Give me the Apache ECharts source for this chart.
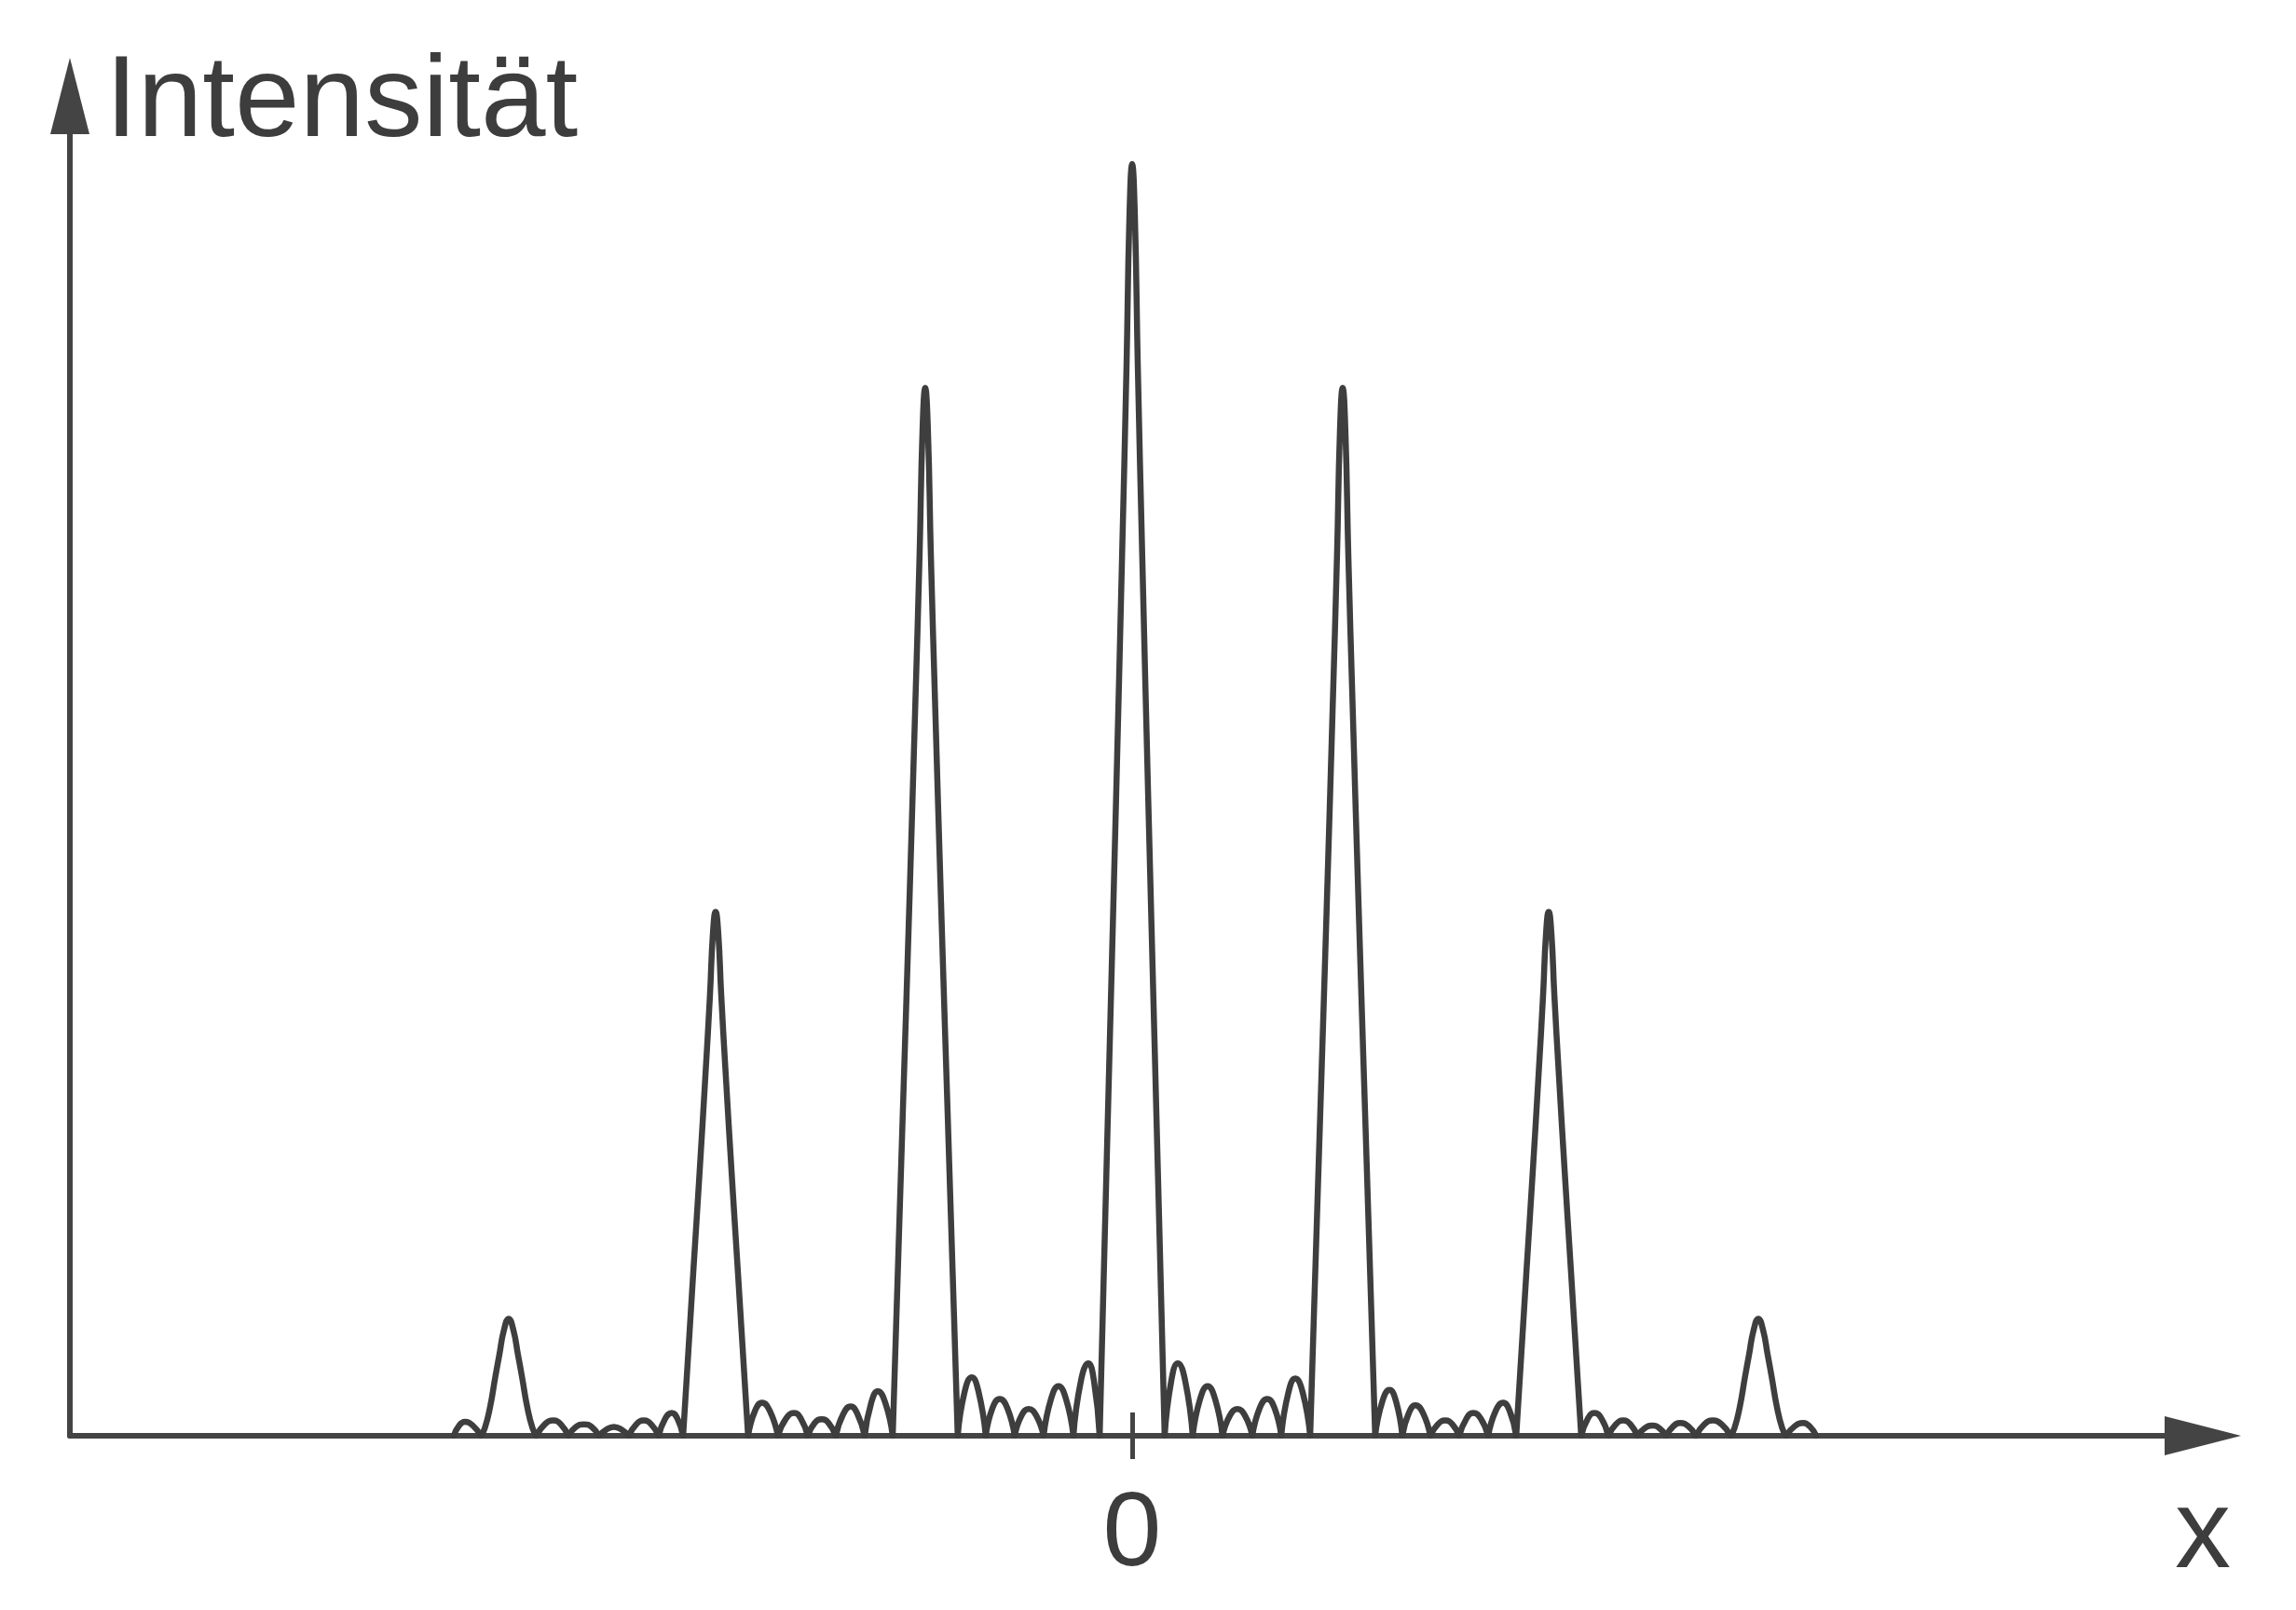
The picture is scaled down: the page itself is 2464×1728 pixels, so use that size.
<!DOCTYPE html>
<html>
<head>
<meta charset="utf-8">
<script src="https://cdn.jsdelivr.net/npm/echarts@6/dist/echarts.min.js"></script>
<style>
  html, body { margin: 0; padding: 0; background: #ffffff; }
  #chart { width: 2464px; height: 1728px; }
</style>
</head>
<body>
<div id="chart"></div>
<script>
// Each entry: [position on screen (units of the spacing between intensity zeros, 0 = centre),
//              relative intensity (% of the central maximum)].
const leftTail = [[-22.75,0],[-22.57,0.8],[-22.38,1.1],[-22.11,0.8]];
const peakMinus3 = [[-21.84,0],[-21.71,0.6],[-21.53,2.3],[-21.36,4.6],[-21.22,6.4],[-21.07,8.3],[-20.91,9.2],[-20.75,8.3],[-20.60,6.4],[-20.46,4.6],[-20.29,2.3],[-20.11,0.6]];
const ripplesMinus3to2 = [[-19.98,0],[-19.70,0.9],[-19.41,1.2],[-19.16,0.9],[-18.91,0],[-18.65,0.7],[-18.38,0.9],[-18.13,0.7],[-17.88,0],[-17.63,0.5],[-17.38,0.7],[-17.13,0.5],[-16.88,0],[-16.63,0.9],[-16.38,1.2],[-16.13,0.9],[-15.88,0],[-15.66,1.35],[-15.44,1.8],[-15.25,1.35]];
const peakMinus2 = [[-15.06,0],[-14.94,4.5],[-14.72,12.8],[-14.51,20.6],[-14.31,28.4],[-14.16,34.6],[-14.06,39.5],[-13.97,41.2],[-13.88,39.5],[-13.78,34.6],[-13.63,28.4],[-13.43,20.6],[-13.22,12.8],[-13.00,4.5]];
const ripplesMinus2to1 = [[-12.88,0],[-12.65,1.95],[-12.41,2.6],[-12.15,1.95],[-11.88,0],[-11.61,1.35],[-11.34,1.8],[-11.11,1.35],[-10.88,0],[-10.65,1.0],[-10.41,1.3],[-10.18,1.0],[-9.94,0],[-9.69,1.7],[-9.44,2.3],[-9.21,1.7],[-8.97,0],[-8.75,2.6],[-8.53,3.5],[-8.28,2.6]];
const peakMinus1 = [[-8.03,0],[-7.91,9.1],[-7.69,25.5],[-7.48,41.2],[-7.28,56.9],[-7.13,69.2],[-7.03,79.1],[-6.94,82.4],[-6.85,79.1],[-6.75,69.2],[-6.60,56.9],[-6.40,41.2],[-6.19,25.5],[-5.97,9.1]];
const ripplesMinus1to0 = [[-5.85,0],[-5.62,3.45],[-5.38,4.6],[-5.15,3.45],[-4.91,0],[-4.68,2.2],[-4.44,2.9],[-4.19,2.2],[-3.94,0],[-3.71,1.6],[-3.47,2.1],[-3.22,1.6],[-2.97,0],[-2.72,2.9],[-2.47,3.9],[-2.22,2.9],[-1.97,0],[-1.72,4.3],[-1.47,5.7],[-1.28,4.3]];
const peak0 = [[-1.09,0],[-0.97,11],[-0.75,31],[-0.54,50],[-0.34,69],[-0.19,84],[-0.09,96],[0,100],[0.09,96],[0.19,84],[0.34,69],[0.54,50],[0.75,31],[0.97,11]];
const ripples0to1 = [[1.09,0],[1.31,4.3],[1.53,5.7],[1.78,4.3],[2.03,0],[2.28,2.9],[2.53,3.9],[2.78,2.9],[3.03,0],[3.28,1.6],[3.53,2.1],[3.78,1.6],[4.03,0],[4.28,2.2],[4.53,2.9],[4.77,2.2],[5.00,0],[5.24,3.4],[5.47,4.5],[5.72,3.4]];
const peak1 = [[5.97,0],[6.09,9.1],[6.31,25.5],[6.52,41.2],[6.72,56.9],[6.87,69.2],[6.97,79.1],[7.06,82.4],[7.15,79.1],[7.25,69.2],[7.40,56.9],[7.60,41.2],[7.81,25.5],[8.03,9.1]];
const ripples1to2 = [[8.15,0],[8.39,2.7],[8.63,3.6],[8.85,2.7],[9.06,0],[9.28,1.8],[9.50,2.4],[9.75,1.8],[10.00,0],[10.25,0.9],[10.50,1.2],[10.74,0.9],[10.97,0],[11.21,1.35],[11.44,1.8],[11.69,1.35],[11.94,0],[12.19,1.95],[12.44,2.6],[12.66,1.95]];
const peak2 = [[12.88,0],[13.00,4.5],[13.22,12.8],[13.43,20.6],[13.63,28.4],[13.78,34.6],[13.88,39.5],[13.97,41.2],[14.06,39.5],[14.16,34.6],[14.31,28.4],[14.51,20.6],[14.72,12.8],[14.94,4.5]];
const ripples2to3 = [[15.06,0],[15.28,1.35],[15.50,1.8],[15.74,1.35],[15.97,0],[16.22,0.9],[16.47,1.2],[16.71,0.9],[16.94,0],[17.19,0.6],[17.44,0.8],[17.68,0.6],[17.91,0],[18.15,0.75],[18.38,1.0],[18.65,0.75],[18.91,0],[19.19,0.9],[19.47,1.2],[19.77,0.9]];
const peak3 = [[20.07,0],[20.20,0.6],[20.38,2.3],[20.55,4.6],[20.69,6.4],[20.84,8.3],[21.00,9.2],[21.16,8.3],[21.31,6.4],[21.45,4.6],[21.62,2.3],[21.80,0.6]];
const rightTail = [[21.93,0],[22.22,0.75],[22.50,1.0],[22.72,0.75],[22.94,0]];

const xTickValues = [0];
const yAxisName = 'Intensität';
const xAxisName = 'x';

const INK = '#444444';
const TEXT = '#3d3d3d';
const FONT = '"Liberation Sans", Arial, Helvetica, sans-serif';
const X_MIN = -35.625, X_MAX = 35.906;
const Y_MIN = 0, Y_MAX = 105.35;

// Join the regions, and break the line at every zero so each lobe is smoothed on its own
// (the lobes meet in sharp points on the axis, as in the picture).
const allPoints = [].concat(
  leftTail, peakMinus3, ripplesMinus3to2, peakMinus2, ripplesMinus2to1,
  peakMinus1, ripplesMinus1to0, peak0, ripples0to1, peak1,
  ripples1to2, peak2, ripples2to3, peak3, rightTail
);
const lobes = [];
let current = [];
allPoints.forEach(function (p) {
  current.push(p);
  if (p[1] === 0 && current.length > 1) { lobes.push(current); current = [p]; }
});
if (current.length > 1) lobes.push(current);
const seriesData = [];
lobes.forEach(function (lobe, i) {
  if (i > 0) seriesData.push([lobe[0][0], '-']);
  lobe.forEach(function (p) { seriesData.push(p); });
});

const chart = echarts.init(document.getElementById('chart'), null, { renderer: 'canvas' });
chart.setOption({
  backgroundColor: '#ffffff',
  animation: false,
  grid: { left: 75, right: 100, top: 103, bottom: 187, containLabel: false },
  xAxis: [
    {
      type: 'value', min: X_MIN, max: X_MAX, position: 'bottom',
      axisLine: { show: true, onZero: false, symbol: ['none', 'triangle'], symbolSize: [42, 82],
        lineStyle: { color: INK, width: 6 } },
      axisTick: { show: true, length: 25, customValues: xTickValues,
        lineStyle: { color: INK, width: 5 } },
      axisLabel: { show: true, customValues: xTickValues, fontSize: 113, lineHeight: 113,
        margin: 51, color: TEXT, fontFamily: FONT },
      splitLine: { show: false },
      name: xAxisName, nameLocation: 'end', nameGap: 0,
      nameTextStyle: { fontSize: 120, lineHeight: 120, color: TEXT, fontFamily: FONT,
        align: 'center', verticalAlign: 'top', padding: [48, 0, 0, 0] }
    },
    {
      type: 'value', min: X_MIN, max: X_MAX, position: 'bottom',
      axisLine: { show: false, onZero: false },
      axisTick: { show: true, inside: true, length: 25, customValues: xTickValues,
        lineStyle: { color: INK, width: 5 } },
      axisLabel: { show: false },
      splitLine: { show: false }
    }
  ],
  yAxis: {
    type: 'value', min: Y_MIN, max: Y_MAX, position: 'left',
    axisLine: { show: true, onZero: false, symbol: ['none', 'triangle'], symbolSize: [42, 82],
      lineStyle: { color: INK, width: 6 } },
    axisTick: { show: false },
    axisLabel: { show: false },
    splitLine: { show: false },
    name: yAxisName, nameLocation: 'end', nameGap: -9,
    nameTextStyle: { fontSize: 125, lineHeight: 125, color: TEXT, fontFamily: FONT,
      align: 'left', verticalAlign: 'middle', padding: [0, 0, 0, 38] }
  },
  series: [{
    type: 'line',
    xAxisIndex: 0, yAxisIndex: 0,
    data: seriesData,
    smooth: 0.5,
    connectNulls: false,
    showSymbol: false,
    symbol: 'none',
    clip: true,
    z: 3,
    lineStyle: { color: '#3e3e3e', width: 6.5, join: 'round', cap: 'round' }
  }]
});
</script>
</body>
</html>
